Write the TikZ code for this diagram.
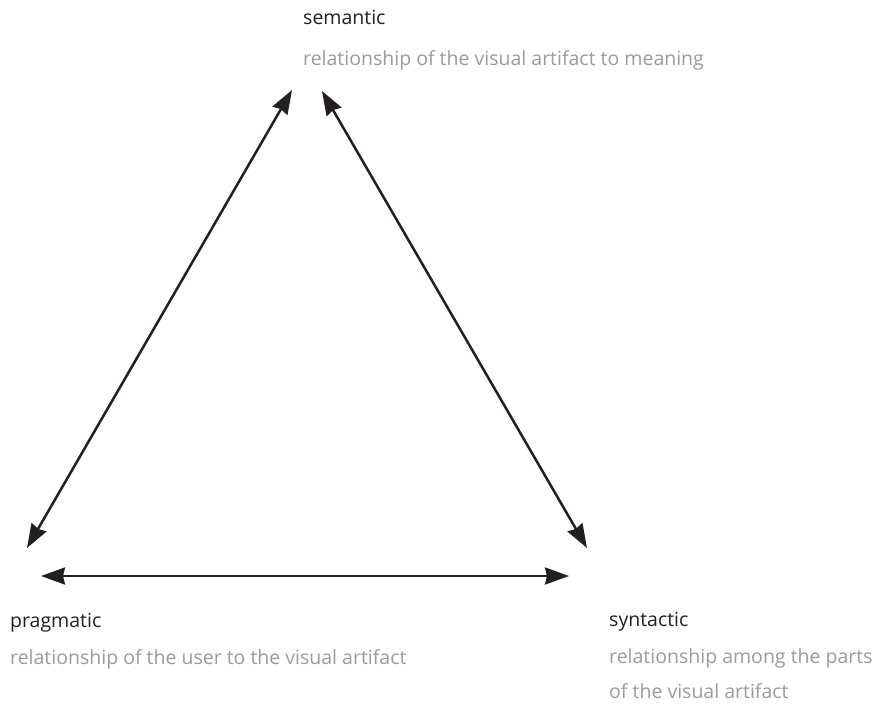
\documentclass[tikz,border=0pt]{standalone}
\usepackage{fontspec}
\setmainfont{Open Sans}
\usetikzlibrary{arrows.meta}
\definecolor{ink}{HTML}{231F20}
\definecolor{subgrey}{HTML}{9B9B9B}
\begin{document}
\begin{tikzpicture}[x=1pt,y=-1pt,
  title/.style={anchor=base west,inner sep=0pt,text=ink,font=\fontsize{19.5}{22}\selectfont},
  desc/.style={anchor=base west,inner sep=0pt,text=subgrey,font=\fontsize{19.5}{22}\selectfont},
  link/.style={draw=ink,line width=2.5pt,{Stealth[length=24pt,width=17pt,inset=2pt]}-{Stealth[length=24pt,width=17pt,inset=2pt]}}]
\useasboundingbox[fill=white] (0,0) rectangle (886,709);
\node[title] (sem) at (303,25) {semantic};
\node[desc] (semd) at (303,66) {relationship of the visual artifact to meaning};
\node[title] (prag) at (10,627) {pragmatic};
\node[desc] (pragd) at (10,664) {relationship of the user to the visual artifact};
\node[title] (syn) at (609,626) {syntactic};
\node[desc] (synd1) at (609,663) {relationship among the parts};
\node[desc] (synd2) at (609,698) {of the visual artifact};
\coordinate (semL) at (292,90);
\coordinate (semR) at (322,91);
\coordinate (pragT) at (27,548);
\coordinate (pragR) at (41,576);
\coordinate (synT) at (587,548);
\coordinate (synL) at (569,576);
\draw[link] (pragT) -- (semL);
\draw[link] (semR) -- (synT);
\draw[link] (pragR) -- (synL);
\end{tikzpicture}
\end{document}
